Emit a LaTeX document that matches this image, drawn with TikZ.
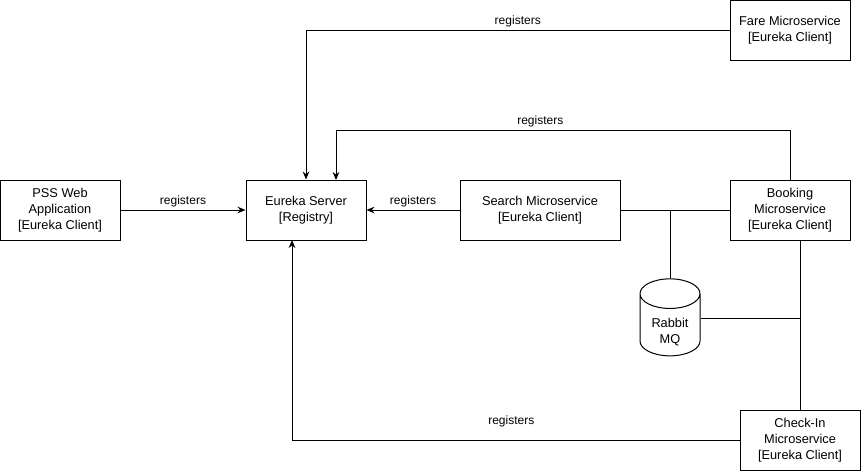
\documentclass[tikz,border=0pt]{standalone}
\usepackage{fontspec}
\setmainfont{Liberation Sans}
\usetikzlibrary{shapes.geometric,arrows.meta}

\begin{document}
\begin{tikzpicture}[x=0.75pt,y=-0.75pt,line width=0.75pt]
\tikzset{
  svc/.style={draw,align=center,inner sep=0pt,minimum width=90pt,minimum height=45pt,font=\fontsize{9.6}{12.2}\selectfont},
  mqstore/.style={draw,cylinder,shape border rotate=90,aspect=0.8,minimum height=57.75pt,minimum width=45pt,inner sep=0pt,font=\fontsize{9.6}{12.2}\selectfont},
  reg/.style={-{Stealth[length=6pt,width=5pt]}},
  lbl/.style={font=\fontsize{9}{10}\selectfont,above,inner sep=2pt}
}
\useasboundingbox (0,0) rectangle (861,471);
\node[svc] (pss) at (60,210) {PSS Web\\Application\\{[}Eureka Client{]}};
\node[svc] (eureka) at (306,210) {Eureka Server\\{[}Registry{]}};
\node[svc,minimum width=120pt] (search) at (540,210) {Search Microservice\\{[}Eureka Client{]}};
\node[svc] (booking) at (790,210) {Booking\\Microservice\\{[}Eureka Client{]}};
\node[svc] (fare) at (790,30) {Fare Microservice\\{[}Eureka Client{]}};
\node[svc] (checkin) at (800,440) {Check-In\\Microservice\\{[}Eureka Client{]}};
\node[mqstore] (rabbit) at (670,325) {\raisebox{-14pt}[0pt][0pt]{\begin{tabular}[b]{@{}c@{}}Rabbit\\MQ\end{tabular}}};
\coordinate (bookup) at (790,130);
\coordinate (eurekatr) at (336,180);
\coordinate (eurekabl) at (292,240);
% registrations
\draw[reg] (pss) -- node[lbl]{registers} (eureka);
\draw[reg] (search) -- node[lbl]{registers} (eureka);
\draw[reg] (fare.west) -| node[lbl,pos=0.25]{registers} (eureka.north);
\draw[reg] (booking.north) -- (bookup) -| node[lbl,pos=0.275]{registers} (eurekatr);
\draw[reg] (checkin.west) -| node[lbl,pos=0.255,yshift=7.5pt]{registers} (eurekabl);
% messaging
\draw (search.east) -- (booking.west);
\draw (rabbit.north) -- (rabbit.north |- search.east);
\draw (checkin.north) -- (checkin.north |- booking.south);
\draw ([yshift=5.25pt]rabbit.east) -- ([yshift=5.25pt]rabbit.east -| checkin.north);
\end{tikzpicture}
\end{document}
